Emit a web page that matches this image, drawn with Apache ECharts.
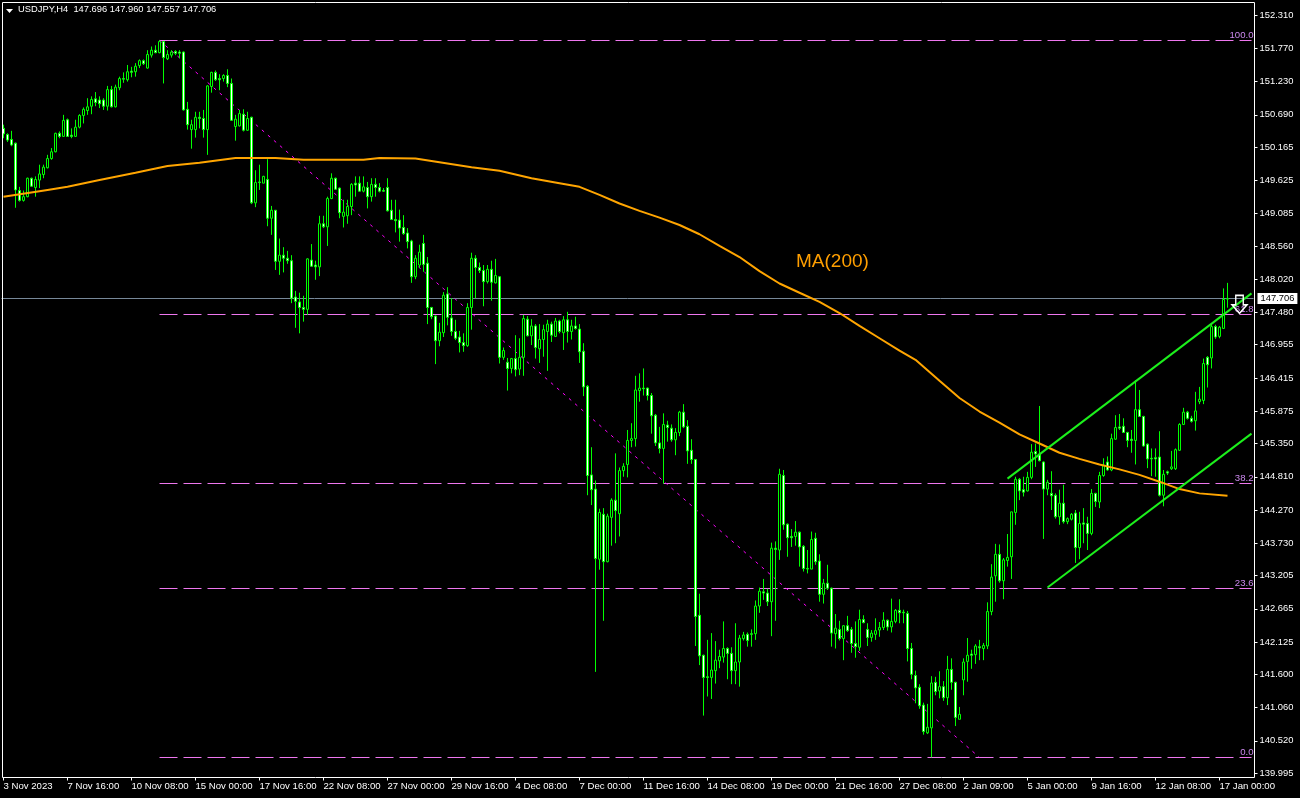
<!DOCTYPE html>
<html>
<head>
<meta charset="utf-8">
<style>html,body{margin:0;padding:0;background:#000}#c{width:1300px;height:798px}</style>
<script src="https://cdn.jsdelivr.net/npm/echarts@6/dist/echarts.min.js"></script>
</head>
<body>
<div id="c"></div>
<script>
const tickLabels = ['3 Nov 2023','7 Nov 16:00','10 Nov 08:00','15 Nov 00:00','17 Nov 16:00','22 Nov 08:00','27 Nov 00:00','29 Nov 16:00','4 Dec 08:00','7 Dec 00:00','11 Dec 16:00','14 Dec 08:00','19 Dec 00:00','21 Dec 16:00','27 Dec 08:00','2 Jan 09:00','5 Jan 00:00','9 Jan 16:00','12 Jan 08:00','17 Jan 00:00'];
const priceTicks = [152.310,151.770,151.230,150.690,150.165,149.625,149.085,148.560,148.020,147.480,146.955,146.415,145.875,145.350,144.810,144.270,143.730,143.205,142.665,142.125,141.600,141.060,140.520,139.995];
const opens = [
150.47,150.37,150.29,150.23,149.46,149.30,149.36,149.66,149.51,149.63,
149.72,149.83,149.98,150.09,150.39,150.34,150.61,150.36,150.34,150.49,
150.68,150.76,150.83,150.95,150.93,150.93,150.83,151.10,150.82,151.13,
151.28,151.26,151.40,151.39,151.49,151.57,151.45,151.66,151.74,151.70,
151.88,151.60,151.66,151.72,151.71,151.71,150.78,150.45,150.45,150.65,
150.63,150.45,151.15,151.38,151.28,151.28,151.33,151.20,150.50,150.51,
150.70,150.44,150.65,149.26,149.60,149.58,149.64,149.01,149.14,148.31,
148.41,148.36,148.32,147.73,147.65,147.56,147.53,148.33,148.25,148.22,
148.92,148.87,149.33,149.66,149.50,149.04,149.05,149.20,149.58,149.58,
149.45,149.51,149.36,149.56,149.51,149.46,149.51,149.14,148.99,148.98,
148.86,148.77,148.64,148.06,148.25,148.60,148.28,147.56,147.42,147.02,
147.15,147.78,147.39,147.17,147.08,146.99,146.94,147.56,148.36,148.21,
148.16,147.98,148.18,147.96,148.06,146.75,146.67,146.57,146.73,146.56,
146.75,147.37,147.10,147.26,146.89,147.04,147.17,147.29,147.09,147.34,
147.15,147.36,147.17,147.26,147.21,146.85,146.28,144.84,144.61,143.47,
144.20,143.43,144.15,144.43,144.21,144.91,145.01,145.40,145.43,146.21,
146.25,146.25,146.13,145.81,145.36,145.27,145.65,145.60,145.41,145.53,
145.86,145.63,145.24,145.09,142.56,141.91,141.56,141.55,141.66,141.82,
141.88,142.02,141.94,141.66,141.80,142.18,142.25,142.26,142.26,142.71,
142.94,142.92,142.78,143.65,143.62,144.83,144.04,143.84,143.84,143.91,
143.68,143.32,143.31,143.81,143.44,142.90,143.08,143.00,142.26,142.33,
142.18,142.39,142.33,142.10,142.04,142.49,142.33,142.20,142.25,142.32,
142.36,142.48,142.37,142.46,142.64,142.61,142.59,142.02,141.58,141.39,
141.10,140.65,140.73,141.47,141.33,141.40,141.22,141.68,141.47,140.87,
141.51,141.81,141.93,141.92,142.05,142.02,142.06,142.62,143.20,143.55,
143.12,143.45,143.51,144.23,144.77,144.60,144.58,144.80,145.22,145.18,
145.05,144.61,144.54,144.51,144.16,144.38,144.08,144.12,144.22,143.66,
144.06,144.05,143.89,144.54,144.40,144.83,145.05,144.92,145.42,145.62,
145.63,145.53,145.42,145.40,145.90,145.79,145.34,145.11,145.12,145.13,
144.51,144.89,144.94,144.94,145.24,145.66,145.86,145.76,145.72,146.03,
146.05,146.75,146.74,147.25,147.09,147.22,147.696];
const closes = [
150.38,150.28,150.20,149.47,149.30,149.36,149.66,149.53,149.64,149.73,
149.84,149.98,150.09,150.39,150.34,150.60,150.34,150.34,150.49,150.68,
150.78,150.82,150.94,150.89,150.87,150.83,151.10,150.82,151.14,151.28,
151.27,151.39,151.38,151.48,151.57,151.52,151.67,151.74,151.70,151.88,
151.62,151.67,151.71,151.69,151.69,150.77,150.53,150.53,150.65,150.63,
150.45,151.16,151.38,151.26,151.26,151.33,151.20,150.60,150.62,150.71,
150.44,150.63,149.26,149.59,149.59,149.69,149.01,149.14,148.31,148.41,
148.36,148.32,147.71,147.66,147.56,147.53,148.35,148.23,148.22,148.92,
148.87,149.33,149.66,149.48,149.10,149.11,149.20,149.56,149.55,149.45,
149.52,149.36,149.56,149.51,149.45,149.45,149.13,148.99,148.97,148.85,
148.76,148.63,148.06,148.36,148.46,148.26,147.56,147.41,147.02,147.16,
147.76,147.40,147.17,147.06,146.99,146.94,147.56,148.36,148.21,148.16,
147.98,148.18,147.97,148.08,146.75,146.86,146.57,146.73,146.55,146.75,
147.38,147.10,147.26,146.91,147.04,147.20,147.29,147.11,147.34,147.17,
147.36,147.17,147.26,147.22,146.84,146.27,144.83,144.60,143.48,144.23,
143.43,144.17,144.43,144.26,144.91,144.98,145.40,145.43,146.22,146.25,
146.24,146.13,145.80,145.36,145.27,145.66,145.61,145.41,145.53,145.86,
145.62,145.23,145.09,142.54,141.90,141.55,141.55,141.67,141.83,141.89,
142.02,141.94,141.66,141.80,142.19,142.24,142.15,142.25,142.71,142.95,
142.92,142.78,143.65,143.63,144.85,144.03,143.82,143.82,143.91,143.67,
143.32,143.31,143.79,143.43,142.90,143.08,143.00,142.27,142.35,142.18,
142.39,142.31,142.10,142.05,142.49,142.44,142.20,142.27,142.31,142.36,
142.48,142.37,142.46,142.64,142.60,142.60,142.02,141.60,141.38,141.09,
140.67,140.74,141.46,141.32,141.40,141.22,141.68,141.47,140.90,140.95,
141.80,141.91,141.91,142.06,142.03,142.07,142.62,143.18,143.55,143.12,
143.46,143.50,144.24,144.77,144.58,144.56,144.80,145.21,145.18,145.07,
144.61,144.72,144.50,144.16,144.38,144.08,144.13,144.20,143.66,144.05,
144.04,143.89,144.54,144.41,144.83,145.00,144.92,145.43,145.61,145.60,
145.53,145.40,145.40,145.90,145.79,145.31,145.10,145.10,145.10,144.51,
144.85,144.87,144.97,145.25,145.66,145.86,145.76,145.71,145.88,146.07,
146.65,146.63,147.25,147.08,147.24,147.69,147.706];
const lows = [
150.31,150.25,150.18,149.18,149.28,149.28,149.35,149.52,149.36,149.50,
149.66,149.82,149.96,150.08,150.31,150.33,150.33,150.31,150.33,150.47,
150.55,150.69,150.70,150.83,150.80,150.77,150.76,150.81,150.81,151.09,
151.21,151.23,151.30,151.31,151.45,151.50,151.44,151.62,151.69,151.69,
151.20,151.58,151.62,151.66,151.61,150.76,150.45,150.14,150.32,150.47,
150.32,150.04,151.05,151.24,151.09,151.23,151.14,150.59,150.27,150.50,
150.42,150.43,149.24,149.19,149.47,149.58,148.88,148.74,148.17,148.09,
148.13,148.27,147.63,147.23,147.14,147.33,147.44,148.22,148.01,148.07,
148.85,148.56,149.32,149.47,149.01,148.86,148.92,149.06,149.36,149.44,
149.43,149.17,149.28,149.36,149.43,149.44,149.12,148.98,148.78,148.63,
148.74,148.52,147.96,148.02,148.20,148.14,147.29,147.37,146.64,146.93,
147.08,147.27,147.10,147.03,146.83,146.84,146.92,147.20,147.71,148.12,
147.58,147.95,147.67,147.95,146.65,146.71,146.21,146.49,146.44,146.46,
146.45,147.09,146.95,146.73,146.66,146.76,146.53,147.00,147.08,147.14,
146.87,146.99,147.04,147.20,146.66,146.12,144.51,144.35,141.64,143.30,
142.47,143.42,143.69,143.73,143.84,144.81,144.80,145.29,145.30,146.03,
146.13,146.05,145.51,145.31,145.19,144.70,145.38,145.38,145.16,145.47,
145.60,145.02,145.02,142.06,141.75,140.93,141.24,141.20,141.45,141.70,
141.79,141.52,141.44,141.44,141.40,142.15,142.05,142.05,142.16,142.60,
142.81,142.71,142.22,142.47,143.46,143.95,143.51,143.67,143.69,143.35,
143.27,143.24,143.31,143.38,142.78,142.75,142.97,142.05,142.02,142.15,
141.83,142.29,141.95,141.87,141.98,142.43,142.06,142.13,142.16,142.21,
142.32,142.31,142.28,142.43,142.43,142.43,141.81,141.52,141.13,141.04,
140.62,140.63,140.25,141.26,141.21,141.17,141.10,141.35,140.76,140.87,
141.26,141.48,141.69,141.77,141.83,141.83,142.01,142.56,142.78,143.09,
142.82,143.35,143.15,144.03,144.43,144.49,144.57,144.77,144.97,145.06,
143.80,144.51,144.27,144.13,144.03,144.05,144.04,144.10,143.41,143.47,
143.73,143.62,143.86,144.32,144.30,144.81,144.91,144.90,145.41,145.57,
145.52,145.29,145.20,145.01,145.78,145.30,144.95,144.82,144.81,144.49,
144.33,144.84,144.92,144.92,145.23,145.65,145.74,145.69,145.56,145.99,
145.99,146.26,146.57,147.05,147.06,147.21,147.557];
const highs = [
150.53,150.39,150.43,150.24,149.52,149.46,149.67,149.67,149.69,149.88,
149.88,150.04,150.15,150.40,150.42,150.69,150.63,150.47,150.61,150.70,
150.81,150.96,150.99,151.06,150.99,150.96,151.16,151.16,151.18,151.31,
151.38,151.50,151.47,151.53,151.59,151.59,151.74,151.80,151.82,151.90,
151.89,151.74,151.74,151.74,151.74,151.72,150.90,150.61,150.74,150.74,
150.77,151.17,151.39,151.41,151.35,151.35,151.43,151.28,150.69,150.77,
150.78,150.74,150.66,149.79,149.88,149.70,149.97,149.21,149.14,148.68,
148.54,148.48,148.41,147.83,147.80,147.75,148.36,148.59,148.32,149.05,
149.05,149.36,149.74,149.67,149.51,149.31,149.31,149.58,149.69,149.69,
149.69,149.60,149.66,149.66,149.58,149.50,149.66,149.31,149.31,149.15,
149.06,148.85,148.66,148.41,148.58,148.74,148.38,147.57,147.43,147.31,
147.81,147.89,147.71,147.36,147.18,147.14,147.63,148.45,148.41,148.29,
148.25,148.25,148.32,148.35,148.07,146.91,146.74,146.74,147.11,147.06,
147.44,147.42,147.37,147.29,147.29,147.28,147.36,147.33,147.39,147.36,
147.42,147.49,147.36,147.41,147.29,146.98,146.30,145.29,144.75,144.29,
144.30,144.21,144.46,145.19,144.96,145.03,145.57,145.68,146.45,146.49,
146.57,146.26,146.17,145.83,145.62,145.84,145.72,145.66,145.60,145.88,
145.99,145.73,145.42,145.10,142.91,141.92,142.16,142.27,142.14,142.00,
142.46,142.04,142.04,142.43,142.24,142.29,142.28,142.33,142.80,143.01,
143.15,142.99,143.74,143.76,144.94,144.92,144.05,143.96,144.09,143.92,
143.70,143.62,143.92,143.90,143.55,143.15,143.38,143.01,142.58,142.47,
142.40,142.55,142.37,142.46,142.65,142.56,142.43,142.32,142.51,142.45,
142.61,142.49,142.83,142.66,142.82,142.65,142.63,142.11,141.66,141.44,
141.14,141.12,141.57,141.56,141.65,141.49,141.90,141.86,141.48,141.07,
141.86,142.19,142.00,142.09,142.16,142.11,142.77,143.39,143.72,143.71,
143.49,143.88,144.24,144.81,144.79,144.81,144.89,145.34,145.35,145.96,
145.06,144.76,144.90,144.54,144.60,144.68,144.15,144.22,144.27,144.24,
144.30,144.16,144.61,144.55,144.89,145.11,145.14,145.51,145.81,145.83,
145.76,145.54,145.57,146.38,146.22,145.80,145.35,145.27,145.27,145.55,
144.92,144.91,145.23,145.27,145.68,145.93,145.88,145.80,146.19,146.27,
146.73,146.77,147.30,147.28,147.26,147.87,147.96];
const maIndex = [0,11,16,24,33,41,49,58,68,75,90,94,103,109,117,124,132,139,144,149,154,159,164,169,174,179,184,189,194,199,204,209,214,219,224,228,234,239,244,249,254,259,264,269,274,279,284,289,294,299,306];
const maValues = [149.36,149.47,149.52,149.63,149.75,149.86,149.91,149.99,149.99,149.96,149.96,149.99,149.98,149.92,149.84,149.78,149.66,149.58,149.52,149.39,149.25,149.13,149.02,148.90,148.75,148.56,148.38,148.15,147.95,147.80,147.65,147.47,147.26,147.06,146.86,146.71,146.37,146.09,145.87,145.69,145.50,145.35,145.20,145.10,145.01,144.93,144.84,144.73,144.61,144.54,144.50];
const fibLevels = ['100.0','61.8','38.2','23.6','0.0'];
const fibPrices = [151.90,147.45,144.70,143.00,140.25];
const fibStart = 39, lastSlot = 312, slotCount = 313;
const trendFrom = [39,151.90], trendTo = [244,140.25];
const channelUpper = [[251,144.78],[lastSlot,147.79]];
const channelLower = [[261,143.01],[lastSlot,145.51]];
const lastPrice = 147.706;
const headerText = 'USDJPY,H4  147.696 147.960 147.557 147.706';

const categories = [];
for (let i = 0; i < slotCount; i++) categories.push(i % 16 === 0 ? (tickLabels[i / 16] || '') : '');
const ohlc = opens.map((o, i) => [o, closes[i], lows[i], highs[i]]);
const FONT = '"Liberation Sans", Arial, sans-serif';
const SMALL = 9.6;

const chart = echarts.init(document.getElementById('c'), null, {renderer: 'canvas'});
chart.setOption({
  animation: false,
  backgroundColor: '#000',
  textStyle: {fontFamily: FONT},
  title: {text: headerText, left: 13, top: 0, textStyle: {color: '#fff', fontSize: 9.35, fontWeight: 'normal', fontFamily: FONT}},
  grid: {left: 1.5, top: 2.5, width: 1252, height: 775, containLabel: false, show: false, outerBoundsMode: 'none'},
  xAxis: {
    type: 'category', data: categories, boundaryGap: true,
    axisLine: {show: false},
    axisTick: {show: true, alignWithLabel: true, interval: 15, length: 3, lineStyle: {color: '#fff', width: 1}},
    axisLabel: {show: true, interval: 15, align: 'left', color: '#fff', fontSize: SMALL, margin: 4, fontFamily: FONT, hideOverlap: false},
    splitLine: {show: false}
  },
  yAxis: {
    type: 'value', position: 'right', offset: 1, min: 139.924, max: 152.515, scale: true,
    axisLine: {show: false},
    axisTick: {show: true, length: 3, customValues: priceTicks, lineStyle: {color: '#fff', width: 1}},
    axisLabel: {show: true, customValues: priceTicks, color: '#fff', fontSize: 9.4, margin: 5, padding: [2, 0, 0, 0], fontFamily: FONT, formatter: v => v.toFixed(3)},
    splitLine: {show: false}
  },
  series: [
    {
      name: 'levels', type: 'line', data: [], silent: true, z: 1,
      markLine: {
        silent: true, symbol: 'none', animation: false, z: 1, precision: 3,
        data: [
          ...fibPrices.map((p, i) => [
            {coord: [fibStart, p], lineStyle: {color: '#ee77ee', width: 1, type: [18, 6]},
             label: {show: true, formatter: fibLevels[i], position: 'insideEndTop', distance: [0, 0], offset: [2, 0], color: '#cc88ee', fontSize: SMALL, fontFamily: FONT}},
            {coord: [lastSlot, p]}
          ]),
          [
            {coord: trendFrom, lineStyle: {color: '#ff00ff', width: 1, type: [3, 5]}, label: {show: false}},
            {coord: trendTo}
          ],
          {yAxis: lastPrice, lineStyle: {color: '#778899', width: 1, type: 'solid'},
           label: {show: true, formatter: lastPrice.toFixed(3), position: 'end', distance: 4, color: '#000', backgroundColor: '#fff', padding: [1, 3, 1, 3], fontSize: 9.4, fontFamily: FONT}}
        ]
      }
    },
    {
      name: 'USDJPY', type: 'candlestick', data: ohlc, barWidth: 3, z: 2, silent: true, progressive: 0, large: false, clip: true,
      itemStyle: {color: '#000', color0: '#fff', borderColor: '#00ff00', borderColor0: '#00ff00', borderWidth: 1}
    },
    {
      name: 'MA(200)', type: 'line', data: maIndex.map((x, i) => [x, maValues[i]]), z: 3, silent: true,
      showSymbol: false, smooth: false, lineStyle: {color: '#ffa500', width: 2}
    },
    {
      name: 'annotations', type: 'line', data: [], z: 4, silent: true,
      markLine: {
        silent: true, symbol: 'none', animation: false, z: 4,
        lineStyle: {color: '#1cf01c', width: 2, type: 'solid'}, label: {show: false},
        data: [
          [{coord: channelUpper[0]}, {coord: channelUpper[1]}],
          [{coord: channelLower[0]}, {coord: channelLower[1]}]
        ]
      },
      markPoint: {
        silent: true, animation: false, z: 6,
        data: [{coord: [309, 147.61], symbol: 'path://M4 0L12 0L12 10L16 10L8 19L0 10L4 10Z', symbolSize: [15, 18],
          itemStyle: {color: 'rgba(0,0,0,0)', borderColor: '#fff', borderWidth: 1.5}, label: {show: false}}]
      }
    }
  ],
  graphic: [
    {type: 'rect', silent: true, z: 100, shape: {x: 2.5, y: 2.5, width: 1252, height: 775}, style: {fill: null, stroke: '#fff', lineWidth: 1}},
    {type: 'polygon', silent: true, z: 100, shape: {points: [[6, 9], [13, 9], [9.5, 13]]}, style: {fill: '#fff'}},
    {type: 'text', silent: true, z: 100, x: 796, y: 252, style: {text: 'MA(200)', fill: '#ff9f00', font: '19px "Liberation Sans", sans-serif'}}
  ]
});
</script>
</body>
</html>
